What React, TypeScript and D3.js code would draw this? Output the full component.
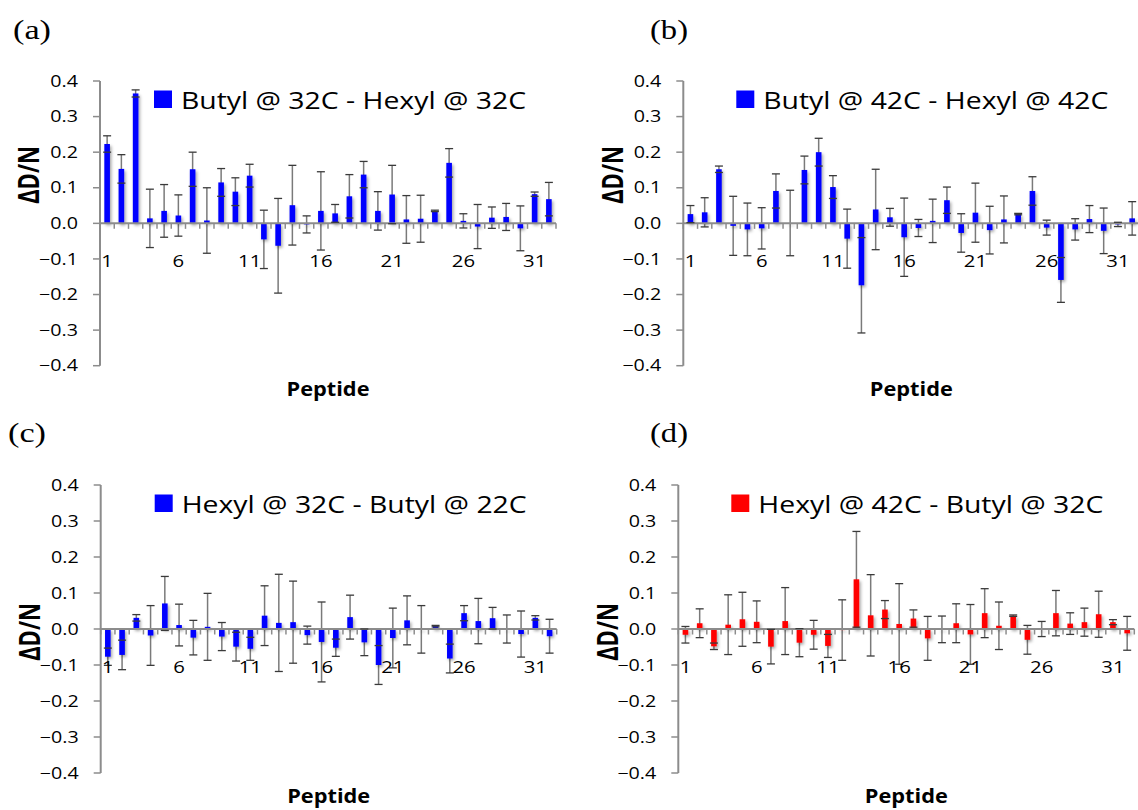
import React from "react";
import * as d3 from "d3";

// ---------- data ----------
const peptides: number[] = d3.range(1, 33);
const categoryLabels: number[] = [1, 6, 11, 16, 21, 26, 31];
const yTicks: number[] = [0.4, 0.3, 0.2, 0.1, 0.0, -0.1, -0.2, -0.3, -0.4];

const seriesA: number[] = [0.223, 0.153, 0.365, 0.014, 0.035, 0.022, 0.152, 0.008, 0.115, 0.089, 0.134, -0.045, -0.063, 0.051, -0.003, 0.035, 0.028, 0.076, 0.137, 0.035, 0.081, 0.011, 0.013, 0.035, 0.17, 0.007, -0.009, 0.016, 0.018, -0.014, 0.082, 0.068];
const errorA: number[] = [0.023, 0.04, 0.01, 0.082, 0.074, 0.058, 0.048, 0.092, 0.039, 0.039, 0.032, 0.082, 0.133, 0.112, 0.024, 0.11, 0.025, 0.061, 0.037, 0.054, 0.082, 0.067, 0.066, 0.002, 0.04, 0.02, 0.062, 0.03, 0.038, 0.063, 0.006, 0.047];

const seriesB: number[] = [0.026, 0.031, 0.152, -0.007, -0.017, -0.014, 0.091, 0.001, 0.15, 0.2, 0.102, -0.043, -0.174, 0.039, 0.017, -0.039, -0.013, 0.007, 0.065, -0.027, 0.03, -0.019, 0.011, 0.026, 0.091, -0.012, -0.159, -0.017, 0.012, -0.021, -0.003, 0.014];
const errorB: number[] = [0.024, 0.041, 0.009, 0.083, 0.074, 0.058, 0.048, 0.092, 0.039, 0.039, 0.032, 0.083, 0.134, 0.113, 0.025, 0.11, 0.024, 0.061, 0.037, 0.054, 0.083, 0.067, 0.066, 0.002, 0.04, 0.021, 0.063, 0.03, 0.038, 0.064, 0.006, 0.047];

const seriesC: number[] = [-0.077, -0.072, 0.031, -0.018, 0.071, 0.011, -0.024, 0.006, -0.021, -0.049, -0.055, 0.037, 0.017, 0.019, -0.017, -0.036, -0.052, 0.033, -0.037, -0.1, -0.025, 0.024, -0.001, 0.008, -0.082, 0.044, 0.022, 0.03, 0.0, -0.014, 0.031, -0.02];
const errorC: number[] = [0.024, 0.041, 0.009, 0.083, 0.075, 0.058, 0.048, 0.093, 0.039, 0.04, 0.032, 0.083, 0.135, 0.114, 0.025, 0.111, 0.024, 0.061, 0.037, 0.054, 0.083, 0.068, 0.066, 0.002, 0.04, 0.021, 0.063, 0.03, 0.039, 0.064, 0.006, 0.047];

const seriesD: number[] = [-0.016, 0.016, -0.048, 0.012, 0.027, 0.02, -0.049, 0.022, -0.038, -0.016, -0.047, -0.003, 0.138, 0.038, 0.054, 0.014, 0.029, -0.026, -0.001, 0.016, -0.015, 0.044, 0.009, 0.037, -0.03, 0.0, 0.044, 0.015, 0.019, 0.041, 0.019, -0.012];
const errorD: number[] = [0.023, 0.04, 0.009, 0.083, 0.075, 0.058, 0.048, 0.093, 0.039, 0.04, 0.032, 0.084, 0.133, 0.113, 0.025, 0.112, 0.024, 0.061, 0.037, 0.054, 0.083, 0.068, 0.066, 0.002, 0.04, 0.021, 0.063, 0.03, 0.039, 0.064, 0.007, 0.047];

const panelLetters: string[] = ["(a)", "(b)", "(c)", "(d)"];
const legendLabels: string[] = [
  "Butyl @ 32C - Hexyl @ 32C",
  "Butyl @ 42C - Hexyl @ 42C",
  "Hexyl @ 32C - Butyl @ 22C",
  "Hexyl @ 42C - Butyl @ 32C",
];
const yTitle = "ΔD/N";
const xTitle = "Peptide";

// ---------- layout ----------
const W = 1138;
const H = 810;
const SX = 1.27; // horizontal stretch of the original figure's text

interface PanelLayout {
  x0: number;
  yTop: number;
  yBot: number;
  letterX: number;
  letterY: number;
  titleCY: number;
  color: string;
  values: number[];
  errors: number[];
}

const panels: PanelLayout[] = [
  { x0: 100, yTop: 81, yBot: 365.7, letterX: 13, letterY: 39, titleCY: 175, color: "#0000ff", values: seriesA, errors: errorA },
  { x0: 683.3, yTop: 81, yBot: 365.7, letterX: 650, letterY: 39, titleCY: 175, color: "#0000ff", values: seriesB, errors: errorB },
  { x0: 100.7, yTop: 485, yBot: 773, letterX: 8, letterY: 442, titleCY: 632, color: "#0000ff", values: seriesC, errors: errorC },
  { x0: 678.3, yTop: 485, yBot: 773, letterX: 650, letterY: 442, titleCY: 632, color: "#ff0000", values: seriesD, errors: errorD },
];

const PLOT_W = 456;
const AXIS_COLOR = "#8c8c8c";
const SANS = "'Open Sans', 'DejaVu Sans', sans-serif";

function Panel({ p, i }: { p: PanelLayout; i: number }) {
  const x = d3.scaleBand<number>().domain(peptides).range([p.x0, p.x0 + PLOT_W]).padding(0);
  const y = d3.scaleLinear().domain([-0.4, 0.4]).range([p.yBot, p.yTop]);
  const y0 = y(0);
  const bw = 5.6;
  const capW = 8;
  const legX = p.x0 + (i % 2 === 0 ? 54 : 53);
  const legY = p.yTop + 9.5;

  return (
    <g>
      {/* panel letter */}
      <text
        x={p.letterX}
        y={p.letterY}
        fontFamily="'Liberation Serif', 'DejaVu Serif', serif"
        fontSize={28}
        textLength={38}
        lengthAdjust="spacingAndGlyphs"
        fill="#000"
      >
        {panelLetters[i]}
      </text>

      {/* y axis */}
      <line x1={p.x0} x2={p.x0} y1={p.yTop} y2={p.yBot} stroke={AXIS_COLOR} strokeWidth={2} />
      {yTicks.map((t) => (
        <g key={"yt" + t}>
          <line x1={p.x0 - 7} x2={p.x0} y1={y(t)} y2={y(t)} stroke={AXIS_COLOR} strokeWidth={1.5} />
          <text
            transform={`translate(${p.x0 - 22},${y(t)}) scale(${SX},1)`}
            textAnchor="end"
            dy="0.36em"
            fontFamily={SANS}
            fontSize={15.5}
            fill="#000"
          >
            {d3.format(".1f")(t)}
          </text>
        </g>
      ))}

      {/* y title */}
      <text
        transform={`translate(${p.x0 - 71},${p.titleCY}) scale(1.3,1) rotate(-90)`}
        textAnchor="middle"
        dy="0.36em"
        fontFamily={SANS}
        fontWeight="bold"
        fontSize={22}
        fill="#000"
      >
        {yTitle}
      </text>

      {/* error bar stems (behind bars) */}
      {peptides.map((c, k) => (
        <line
          key={"st" + c}
          x1={x(c)! + x.bandwidth() / 2}
          x2={x(c)! + x.bandwidth() / 2}
          y1={y(p.values[k] + p.errors[k])}
          y2={y(p.values[k] - p.errors[k])}
          stroke="#7a7a7a"
          strokeWidth={1.5}
        />
      ))}

      {/* bars */}
      <g filter="url(#barShadow)">
        {peptides.map((c, k) => {
          const v = p.values[k];
          const yv = y(v);
          return (
            <rect
              key={"b" + c}
              x={x(c)! + x.bandwidth() / 2 - bw / 2}
              y={Math.min(yv, y0)}
              width={bw}
              height={Math.max(Math.abs(yv - y0), 0.8)}
              fill={p.color}
            />
          );
        })}
      </g>

      {/* x axis line and category ticks */}
      <line x1={p.x0} x2={p.x0 + PLOT_W} y1={y0} y2={y0} stroke={AXIS_COLOR} strokeWidth={2} />
      {d3.range(0, peptides.length + 1).map((k) => (
        <line
          key={"xt" + k}
          x1={p.x0 + k * x.step()}
          x2={p.x0 + k * x.step()}
          y1={y0}
          y2={y0 + 5.5}
          stroke={AXIS_COLOR}
          strokeWidth={1.5}
        />
      ))}

      {/* error bar caps (on top) */}
      {peptides.map((c, k) => {
        const cx = x(c)! + x.bandwidth() / 2;
        const hi = y(p.values[k] + p.errors[k]);
        const lo = y(p.values[k] - p.errors[k]);
        return (
          <g key={"cap" + c}>
            <line x1={cx - capW / 2} x2={cx + capW / 2} y1={hi} y2={hi} stroke="#3a3a3a" strokeWidth={1.3} />
            <line x1={cx - capW / 2} x2={cx + capW / 2} y1={lo} y2={lo} stroke="#3a3a3a" strokeWidth={1.3} />
          </g>
        );
      })}

      {/* category labels */}
      {categoryLabels.map((c) => (
        <text
          key={"cl" + c}
          transform={`translate(${x(c)! + x.bandwidth() / 2},${y0 + 44}) scale(${SX},1)`}
          textAnchor="middle"
          fontFamily={SANS}
          fontSize={16}
          fill="#000"
        >
          {c}
        </text>
      ))}

      {/* x title */}
      <text
        x={p.x0 + PLOT_W / 2}
        y={p.yBot + 30}
        textAnchor="middle"
        fontFamily={SANS}
        fontWeight="bold"
        fontSize={20}
        textLength={83}
        lengthAdjust="spacingAndGlyphs"
        fill="#000"
      >
        {xTitle}
      </text>

      {/* legend */}
      <rect x={legX} y={legY} width={18} height={17.5} fill={p.color} />
      <text
        x={legX + 27}
        y={legY + 18}
        fontFamily={SANS}
        fontSize={24}
        textLength={345}
        lengthAdjust="spacingAndGlyphs"
        fill="#000"
      >
        {legendLabels[i]}
      </text>
    </g>
  );
}

export default function App() {
  return (
    <svg
      width={W}
      height={H}
      viewBox={`0 0 ${W} ${H}`}
      style={{ position: "absolute", left: 0, top: 0, background: "#fff", display: "block" }}
    >
      <defs>
        <filter id="barShadow" x="-50%" y="-50%" width="200%" height="200%">
          <feDropShadow dx={1.5} dy={2} stdDeviation={1.6} floodColor="#000" floodOpacity={0.35} />
        </filter>
      </defs>
      <rect x={0} y={0} width={W} height={H} fill="#fff" />
      {panels.map((p, i) => (
        <Panel key={i} p={p} i={i} />
      ))}
    </svg>
  );
}
